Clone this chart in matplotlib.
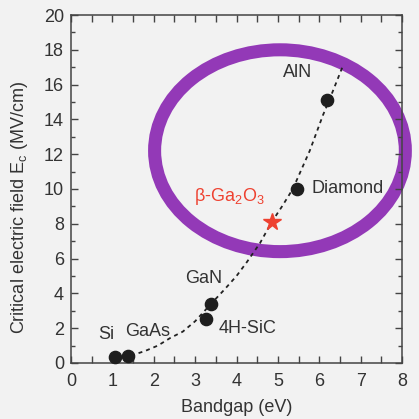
import matplotlib
matplotlib.use("Agg")
import matplotlib.pyplot as plt
from matplotlib.patches import Ellipse
from matplotlib.ticker import MultipleLocator

plt.rcParams['font.family'] = ['Liberation Sans', 'DejaVu Sans']
plt.rcParams['mathtext.fontset'] = 'custom'
plt.rcParams['mathtext.rm'] = 'Liberation Sans'
plt.rcParams['mathtext.it'] = 'Liberation Sans'

# Data
materials = ['Si', 'GaAs', '4H-SiC', 'GaN', 'Diamond', 'AlN']
bandgap = [1.07, 1.38, 3.26, 3.38, 5.46, 6.18]
field = [0.35, 0.40, 2.53, 3.39, 10.0, 15.1]
ga2o3_bandgap = 4.86
ga2o3_field = 8.1

curve_x = [1.45, 1.8, 2.1, 2.4, 2.7, 3.0, 3.38, 3.7, 4.0, 4.25, 4.57, 4.85, 5.1, 5.36, 5.77, 6.09, 6.24, 6.58]
curve_y = [0.42, 0.70, 1.0, 1.44, 1.8, 2.4, 3.39, 4.2, 5.0, 5.8, 6.9, 8.1, 9.0, 10.0, 12.2, 14.25, 15.1, 17.13]

label_pos = {
    'Si': (0.85, 1.66),
    'GaAs': (1.85, 1.8),
    '4H-SiC': (4.26, 2.0),
    'GaN': (3.21, 4.83),
    'Diamond': (6.69, 10.0),
    'AlN': (5.47, 16.67),
}

bg = '#f2f2f2'
txt = '#333333'
fs = 13
fig = plt.figure(figsize=(4.19, 4.19), dpi=100, facecolor=bg)
ax = fig.add_axes([0.1695, 0.1337, 0.790, 0.8305], facecolor=bg)

ell = Ellipse((5.05, 12.2), 6.06, 11.6, fill=False, edgecolor='#9339b7',
              linewidth=9.4, clip_on=False, zorder=1)
ax.add_patch(ell)

ax.plot(curve_x, curve_y, color='#222222', linestyle=(0, (2.2, 2.2)), linewidth=1.3, zorder=2)
ax.plot(bandgap, field, 'o', color='#1e1e1e', markersize=8.8, zorder=3, clip_on=False)
ax.plot([ga2o3_bandgap], [ga2o3_field], '*', color='#ee4130', markersize=13, zorder=4)

for name, (x, y) in label_pos.items():
    ax.text(x, y, name, ha='center', va='center', fontsize=fs, color=txt)
ax.text(3.82, 9.55, r'β-Ga$_2$O$_3$', ha='center', va='center', fontsize=fs, color='#ee4130')

ax.set_xlim(0, 8)
ax.set_ylim(0, 20)
ax.xaxis.set_major_locator(MultipleLocator(1))
ax.xaxis.set_minor_locator(MultipleLocator(0.5))
ax.yaxis.set_major_locator(MultipleLocator(2))
ax.yaxis.set_minor_locator(MultipleLocator(1))
ax.tick_params(axis='both', which='both', direction='in', top=True, right=True,
               colors='#444444', labelcolor=txt, labelsize=fs, width=1.0)
ax.tick_params(axis='x', which='major', length=5, pad=7)
ax.tick_params(axis='x', which='minor', length=5)
ax.tick_params(axis='y', which='major', length=5, pad=5)
ax.tick_params(axis='y', which='minor', length=2.6)
for s in ax.spines.values():
    s.set_color('#444444')
    s.set_linewidth(1.1)

ax.set_xlabel('Bandgap (eV)', fontsize=fs, color=txt, labelpad=7)
ax.set_ylabel(r'Critical electric field E$_\mathrm{c}$ (MV/cm)', fontsize=fs, color=txt)
ax.yaxis.set_label_coords(-0.124, 0.448)

fig.savefig('out.png', dpi=100, facecolor=bg)
